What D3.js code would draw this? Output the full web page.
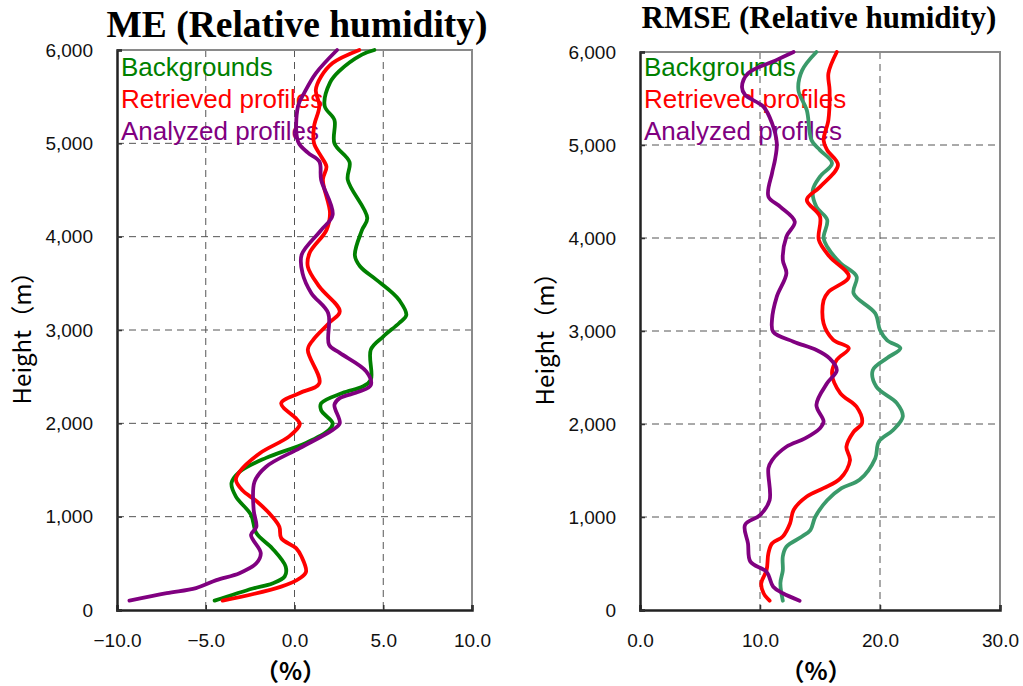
<!DOCTYPE html>
<html>
<head>
<meta charset="utf-8">
<script src="https://cdn.jsdelivr.net/npm/d3@7"></script>
<style>
  body { margin: 0; background: #fff; }
</style>
</head>
<body>
<svg id="chart" width="1023" height="686"></svg>
<script>
// heights (m) on the vertical axis
var heightTicks = [0, 1000, 2000, 3000, 4000, 5000, 6000];
var meTicks = [-10, -5, 0, 5, 10];
var rmseTicks = [0, 10, 20, 30];
var seriesNames = ["Backgrounds", "Retrieved profiles", "Analyzed profiles"];

// each point is [height (m), value (%)]
var meBackgrounds = [[6000,4.5],[5950,3.8],[5770,2.5],[5650,2.0],[5400,1.7],[5250,2.25],[5000,2.25],[4800,3.1],
  [4610,3.0],[4200,4.1],[4070,3.8],[3800,3.4],[3680,3.7],[3540,4.6],[3400,5.5],[3320,5.9],[3160,6.3],[3075,5.9],
  [2930,5.0],[2790,4.3],[2465,4.3],[2395,3.85],[2325,2.7],[2215,1.5],[2140,1.5],[2000,2.15],[1930,1.95],[1790,0.65],
  [1630,-1.6],[1480,-3.1],[1360,-3.55],[1215,-3.3],[1020,-2.45],[825,-2.15],[660,-1.25],[465,-0.5],[360,-0.55],
  [285,-1.25],[230,-2.35],[100,-4.5]];
var meRetrieved = [[6000,3.65],[5860,2.15],[5715,1.5],[5570,1.2],[5400,1.4],[5180,1.1],[5000,1.1],[4860,1.5],
  [4750,1.8],[4610,1.6],[4250,2.0],[4070,1.8],[3825,0.85],[3680,0.75],[3465,1.4],[3200,2.55],[3075,1.95],[2895,1.05],
  [2790,0.75],[2430,1.4],[2325,0.3],[2215,-0.75],[2050,0.1],[1990,0.3],[1860,-0.3],[1680,-1.95],[1480,-3.1],
  [1395,-3.3],[1285,-2.95],[1160,-2.1],[1000,-1.25],[890,-0.85],[770,-0.75],[660,0.1],[570,0.4],[410,0.65],
  [340,0.3],[250,-0.75],[100,-4.05]];
var meAnalyzed = [[6000,2.4],[5750,1.2],[5540,0.55],[5400,0.2],[5020,0.2],[4900,0.75],[4805,1.4],[4610,1.5],
  [4235,2.15],[4070,1.5],[3805,0.4],[3610,0.45],[3395,0.95],[3180,1.9],[2840,1.95],[2755,2.55],[2555,4.05],
  [2410,4.3],[2340,3.65],[2270,2.55],[2200,2.25],[2000,2.55],[1930,2.15],[1735,0.3],[1535,-1.6],[1375,-2.25],
  [1070,-2.3],[890,-2.15],[805,-2.45],[610,-1.9],[500,-2.15],[395,-3.1],[320,-4.4],[235,-5.55],[180,-7.2],[100,-9.3]];

var rmseBackgrounds = [[6000,14.7],[5800,13.5],[5590,13.2],[5375,13.9],[5050,14.3],[4945,15.0],[4805,16.0],
  [4660,15.0],[4515,14.4],[4335,14.7],[4195,15.6],[4000,15.3],[3905,15.6],[3730,16.7],[3585,18.05],[3405,17.8],
  [3190,19.6],[3010,20.0],[2900,20.6],[2815,21.7],[2710,20.6],[2580,19.4],[2400,19.7],[2225,21.4],[2080,21.9],
  [1935,21.1],[1810,19.9],[1630,19.6],[1400,18.3],[1310,16.8],[1180,15.6],[1000,14.6],[860,14.2],[790,13.5],
  [680,12.2],[575,11.9],[425,11.9],[290,11.7],[100,11.9]];
var rmseRetrieved = [[6000,16.4],[5770,15.7],[5590,15.8],[5270,15.7],[5050,15.3],[4945,15.6],[4785,16.5],
  [4550,15.0],[4410,13.9],[4230,15.0],[3980,14.9],[3800,15.8],[3585,17.4],[3420,15.7],[3330,15.3],[3080,15.3],
  [2905,16.1],[2815,17.4],[2690,16.4],[2545,16.0],[2330,16.7],[2185,18.05],[2010,18.5],[1915,17.8],[1755,17.2],
  [1610,17.5],[1415,16.7],[1310,15.3],[1220,13.9],[1075,12.8],[930,12.5],[790,11.9],[715,11.0],[610,10.7],
  [430,10.55],[285,10.1],[180,10.3],[100,10.8]];
var rmseAnalyzed = [[6000,12.8],[5915,11.4],[5770,9.0],[5625,8.5],[5540,8.75],[5410,10.3],[5235,11.0],[5020,11.4],
  [4840,11.25],[4695,11.0],[4445,10.7],[4335,11.7],[4175,12.9],[4015,12.2],[3765,11.9],[3620,12.2],[3370,11.4],
  [3120,11.0],[2990,11.1],[2885,12.8],[2795,14.7],[2705,15.8],[2580,16.4],[2440,15.6],[2205,14.7],[2025,15.3],
  [1955,15.0],[1845,13.75],[1755,12.2],[1610,11.0],[1525,10.7],[1180,10.8],[1020,10.0],[915,8.75],[715,9.0],
  [520,9.2],[410,10.55],[250,11.1],[180,11.9],[100,13.3]];

var legendColors = ["#008000", "#ff0000", "#800080"];
var sansFont = '"Liberation Sans", Arial, "Noto Sans CJK JP", sans-serif';
var svg = d3.select("#chart");

function drawPanel(cfg) {
  var x = d3.scaleLinear().domain(d3.extent(cfg.ticks)).range([cfg.left, cfg.right]);
  var y = d3.scaleLinear().domain([0, 6000]).range([cfg.bottom, cfg.top]);
  var g = svg.append("g");

  // dashed grid
  g.selectAll("line.hgrid")
    .data(heightTicks.slice(1, -1))
    .enter().append("line")
      .attr("x1", cfg.left).attr("x2", cfg.right)
      .attr("y1", function(d) { return y(d); }).attr("y2", function(d) { return y(d); })
      .attr("stroke", "#555").attr("stroke-dasharray", "7,5");
  g.selectAll("line.vgrid")
    .data(cfg.ticks.slice(1, -1))
    .enter().append("line")
      .attr("y1", cfg.top).attr("y2", cfg.bottom)
      .attr("x1", function(d) { return x(d); }).attr("x2", function(d) { return x(d); })
      .attr("stroke", "#555").attr("stroke-dasharray", "7,5");

  // top + right frame are grey
  g.append("path")
    .attr("d", "M" + cfg.left + "," + cfg.top + "H" + cfg.right + "V" + cfg.bottom)
    .attr("fill", "none").attr("stroke", "#8a8a8a").attr("stroke-width", 2);

  var xAxis = g.append("g")
    .attr("transform", "translate(0," + cfg.bottom + ")")
    .call(d3.axisBottom(x).tickValues(cfg.ticks).tickFormat(d3.format(".1f")).tickSize(-5).tickPadding(24));
  var yAxis = g.append("g")
    .attr("transform", "translate(" + cfg.left + ",0)")
    .call(d3.axisLeft(y).tickValues(heightTicks).tickFormat(d3.format(",")).tickSize(-5).tickPadding(24));

  [xAxis, yAxis].forEach(function(a) {
    a.select(".domain").attr("stroke", "#222").attr("stroke-width", 2.5);
    a.selectAll(".tick line").attr("stroke", "#333").attr("stroke-width", 1.5);
    a.selectAll("text").attr("font-family", sansFont).attr("font-size", 19).attr("fill", "#111");
  });

  // legend sits under the lines
  g.selectAll("text.legend")
    .data(seriesNames)
    .enter().append("text")
      .attr("x", cfg.left + 4)
      .attr("y", function(d, i) { return 76 + i * 32; })
      .attr("font-family", sansFont).attr("font-size", 26)
      .attr("fill", function(d, i) { return legendColors[i]; })
      .text(function(d) { return d; });

  var line = d3.line()
    .x(function(d) { return x(d[1]); })
    .y(function(d) { return y(d[0]); })
    .curve(d3.curveCatmullRom.alpha(0.5));

  g.selectAll("path.series")
    .data(cfg.series)
    .enter().append("path")
      .attr("d", line)
      .attr("fill", "none")
      .attr("stroke", function(d, i) { return cfg.lineColors[i]; })
      .attr("stroke-width", 3.8)
      .attr("stroke-linejoin", "round")
      .attr("stroke-linecap", "round");

  g.append("text")
    .attr("x", cfg.titleX).attr("y", cfg.titleY)
    .attr("text-anchor", "middle")
    .attr("font-family", '"Liberation Serif", "Times New Roman", serif')
    .attr("font-weight", "bold").attr("font-size", cfg.titleSize)
    .text(cfg.title);

  g.append("text")
    .attr("transform", "translate(" + (cfg.left - 86) + "," + ((cfg.top + cfg.bottom) / 2 + 2) + ")rotate(-90)")
    .attr("text-anchor", "middle")
    .attr("font-family", '"Noto Sans CJK JP", sans-serif').attr("font-size", 24)
    .text("Height（m）");

  g.append("text")
    .attr("x", (cfg.left + cfg.right) / 2 - 4).attr("y", 680)
    .attr("text-anchor", "middle")
    .attr("font-family", '"Noto Sans CJK JP", sans-serif').attr("font-weight", "bold").attr("font-size", 24)
    .text("（%）");
}

drawPanel({
  left: 117, right: 472, top: 50, bottom: 610,
  ticks: meTicks,
  title: "ME (Relative humidity)", titleX: 297, titleY: 37, titleSize: 37.5,
  series: [meBackgrounds, meRetrieved, meAnalyzed],
  lineColors: ["#008000", "#ff0000", "#800080"]
});

drawPanel({
  left: 640, right: 1000, top: 52, bottom: 610,
  ticks: rmseTicks,
  title: "RMSE (Relative humidity)", titleX: 819, titleY: 28, titleSize: 31,
  series: [rmseBackgrounds, rmseRetrieved, rmseAnalyzed],
  lineColors: ["#3a9a6a", "#ff0000", "#800080"]
});
</script>
</body>
</html>
